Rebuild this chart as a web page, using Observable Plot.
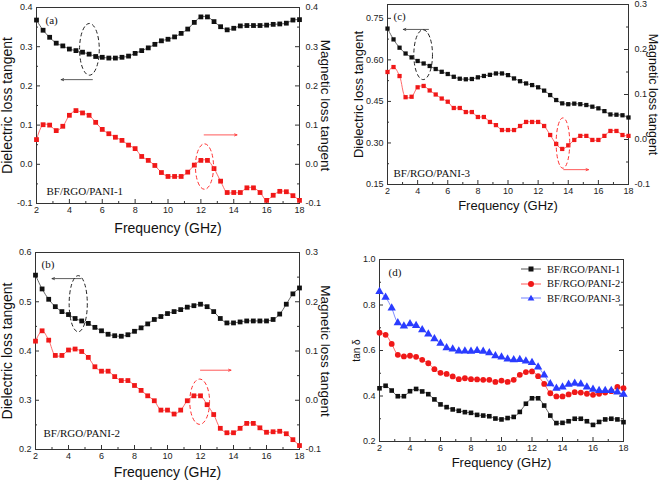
<!DOCTYPE html>
<html>
<head>
<meta charset="utf-8">
<script src="https://cdn.jsdelivr.net/npm/d3@7"></script>
<script src="https://cdn.jsdelivr.net/npm/@observablehq/plot@0.6"></script>
<style>
  html, body { margin: 0; padding: 0; background: #fff; }
  #root { position: relative; width: 661px; height: 481px; overflow: hidden; background: #fff; }
  .panel { position: absolute; }
  .panel svg { overflow: visible; }
  #legend { position: absolute; left: 521px; top: 262px; font-family: "Liberation Serif", "Times New Roman", serif; font-size: 10.5px; color: #111; }
  #legend .row { display: flex; align-items: center; height: 14.5px; }
  #legend svg { margin-right: 4px; }
</style>
</head>
<body>
<div id="root"></div>
<script>
// ---------- data ----------
const freq = [2, 2.4, 2.8, 3.2, 3.6, 4, 4.4, 4.8, 5.2, 5.6, 6, 6.4, 6.8, 7.2, 7.6, 8, 8.4, 8.8, 9.2, 9.6, 10,
  10.4, 10.8, 11.2, 11.6, 12, 12.4, 12.8, 13.2, 13.6, 14, 14.4, 14.8, 15.2, 15.6, 16, 16.4, 16.8, 17.2, 17.6, 18];

// panel (a) BF/RGO/PANI-1
const aDielectric = [0.368,0.342,0.324,0.309,0.302,0.294,0.290,0.286,0.281,0.275,0.273,0.271,0.271,0.273,0.276,0.283,0.290,0.297,0.306,0.315,0.319,0.325,0.334,0.345,0.362,0.376,0.376,0.364,0.351,0.343,0.347,0.353,0.354,0.354,0.354,0.355,0.357,0.358,0.360,0.368,0.369];
const aMagnetic = [0.063,0.101,0.100,0.086,0.097,0.125,0.137,0.131,0.125,0.107,0.089,0.078,0.069,0.061,0.049,0.040,0.020,0.010,-0.003,-0.021,-0.031,-0.031,-0.031,-0.020,-0.002,0.010,0.010,-0.011,-0.043,-0.072,-0.072,-0.072,-0.060,-0.060,-0.072,-0.092,-0.079,-0.069,-0.070,-0.080,-0.092];

// panel (b) BF/RGO/PANI-2
const bDielectric = [0.554,0.526,0.505,0.490,0.480,0.474,0.466,0.461,0.456,0.448,0.441,0.434,0.431,0.430,0.433,0.440,0.447,0.455,0.464,0.470,0.476,0.480,0.484,0.489,0.492,0.495,0.490,0.480,0.466,0.457,0.457,0.459,0.461,0.461,0.461,0.461,0.464,0.475,0.495,0.516,0.528];
const bMagnetic = [0.120,0.141,0.122,0.091,0.091,0.102,0.104,0.099,0.087,0.068,0.059,0.059,0.048,0.040,0.040,0.030,0.020,0.009,-0.001,-0.020,-0.020,-0.028,-0.020,-0.001,0.009,0.009,-0.009,-0.029,-0.057,-0.066,-0.066,-0.057,-0.047,-0.047,-0.056,-0.065,-0.064,-0.063,-0.068,-0.080,-0.092];

// panel (c) BF/RGO/PANI-3
const cDielectric = [0.713,0.674,0.644,0.623,0.609,0.596,0.587,0.578,0.567,0.557,0.549,0.539,0.532,0.530,0.531,0.537,0.542,0.546,0.551,0.551,0.545,0.533,0.523,0.515,0.509,0.501,0.489,0.473,0.455,0.443,0.440,0.442,0.440,0.437,0.431,0.425,0.415,0.403,0.402,0.400,0.392];
const cMagnetic = [0.150,0.161,0.141,0.094,0.095,0.116,0.119,0.109,0.100,0.091,0.084,0.070,0.070,0.061,0.061,0.050,0.050,0.039,0.032,0.021,0.021,0.021,0.030,0.039,0.039,0.039,0.030,0.010,-0.010,-0.021,-0.013,-0.001,0.008,0.008,-0.001,-0.001,0.008,0.019,0.019,0.010,0.008];

// panel (d) tan δ
const dPani1 = [0.434,0.445,0.424,0.399,0.399,0.421,0.431,0.420,0.408,0.385,0.363,0.351,0.341,0.335,0.329,0.326,0.317,0.314,0.311,0.301,0.297,0.303,0.308,0.330,0.366,0.390,0.390,0.358,0.314,0.281,0.282,0.289,0.300,0.300,0.289,0.273,0.286,0.297,0.300,0.297,0.285];
const dPani2 = [0.678,0.669,0.629,0.581,0.574,0.577,0.572,0.559,0.544,0.518,0.502,0.497,0.486,0.474,0.478,0.474,0.473,0.471,0.471,0.462,0.468,0.462,0.471,0.493,0.505,0.508,0.487,0.453,0.412,0.398,0.398,0.407,0.417,0.415,0.410,0.405,0.410,0.415,0.421,0.440,0.434];
const dPani3 = [0.859,0.834,0.786,0.722,0.707,0.717,0.710,0.691,0.672,0.651,0.632,0.612,0.606,0.597,0.597,0.596,0.600,0.596,0.590,0.577,0.571,0.562,0.559,0.560,0.553,0.547,0.527,0.492,0.453,0.434,0.439,0.451,0.456,0.452,0.439,0.429,0.424,0.424,0.424,0.417,0.407];

const sampleNames = ["BF/RGO/PANI-1", "BF/RGO/PANI-2", "BF/RGO/PANI-3"];

// tick values
const xTicks = [2, 4, 6, 8, 10, 12, 14, 16, 18];
const xMinor = [3, 5, 7, 9, 11, 13, 15, 17];
const aLeftTicks = [-0.1, 0, 0.1, 0.2, 0.3, 0.4];
const aRightTicks = [-0.1, 0, 0.1, 0.2, 0.3, 0.4];
const bLeftTicks = [0.2, 0.3, 0.4, 0.5, 0.6];
const bRightTicks = [-0.1, 0, 0.1, 0.2, 0.3];
const cLeftTicks = [0.15, 0.30, 0.45, 0.60, 0.75];
const cRightTicks = [-0.1, 0, 0.1, 0.2, 0.3];
const dLeftTicks = [0.2, 0.4, 0.6, 0.8, 1.0];

// annotations (data units: frequency, right/left axis value)
const aEllipses = [{cx: 5.25, cy: 0.292, rx: 0.6, ry: 0.066, side: "left", color: "#222"},
                   {cx: 12.25, cy: -0.007, rx: 0.55, ry: 0.058, side: "right", color: "#ff3030"}];
const aArrows = [{x1: 5.4, y1: 0.216, x2: 3.5, y2: 0.216, side: "left", color: "#333"},
                 {x1: 12.2, y1: 0.075, x2: 14.2, y2: 0.075, side: "right", color: "#ff3030"}];
const bEllipses = [{cx: 4.62, cy: 0.495, rx: 0.55, ry: 0.057, side: "left", color: "#222"},
                   {cx: 11.98, cy: -0.004, rx: 0.6, ry: 0.046, side: "right", color: "#ff3030"}];
const bArrows = [{x1: 4.75, y1: 0.547, x2: 3.0, y2: 0.547, side: "left", color: "#333"},
                 {x1: 12.0, y1: 0.061, x2: 13.85, y2: 0.061, side: "right", color: "#ff3030"}];
const cEllipses = [{cx: 4.4, cy: 0.617, rx: 0.62, ry: 0.09, side: "left", color: "#222"},
                   {cx: 13.68, cy: -0.009, rx: 0.45, ry: 0.056, side: "right", color: "#ff3030"}];
const cArrows = [{x1: 4.72, y1: 0.71, x2: 3.05, y2: 0.71, side: "left", color: "#333"},
                 {x1: 13.7, y1: -0.067, x2: 15.35, y2: -0.067, side: "right", color: "#ff3030"}];

// ---------- drawing ----------
const SANS = "'Liberation Sans', Arial, Helvetica, sans-serif";
const SERIF = "'Liberation Serif', 'Times New Roman', serif";
const BLACK = "#111111", BLACK_LINE = "#555555";
const RED = "#f01818", RED_LINE = "#ff5a5a";
const BLUE = "#2a3cff", BLUE_LINE = "#7080ff";

function fmt(n) { return v => { const r = Math.round(v * Math.pow(10, n)) / Math.pow(10, n); return (r === 0 ? 0 : r).toFixed(n); }; }
function halfway(t) { const out = []; for (let i = 0; i < t.length - 1; i++) out.push((t[i] + t[i + 1]) / 2); return out; }

function panel(cfg) {
  const {left, top, width, height, mL, mR, mT, mB, yDomain, leftTicks, leftFmt,
         rightTicks, rightFmt, toLeft, series, tag, sample, sampleDx, sampleDy,
         leftTitle, leftDx, leftSize, rightTitle, rightDx, rightSize, bottomDy, bottomSize,
         ellipses, arrows, tagDx, tagDy} = cfg;
  const fh = height - mT - mB;
  const fw = width - mL - mR;
  const ident = v => v;
  const tl = toLeft || ident;
  const marks = [];
  // inward ticks
  marks.push(Plot.ruleX(xTicks, {x: d => d, insetTop: fh - 4, stroke: "#333"}));
  marks.push(Plot.ruleX(xMinor, {x: d => d, insetTop: fh - 2, stroke: "#333"}));
  marks.push(Plot.ruleY(leftTicks, {y: d => d, insetRight: fw - 4, stroke: "#333"}));
  marks.push(Plot.ruleY(halfway(leftTicks), {y: d => d, insetRight: fw - 2, stroke: "#333"}));
  const rt = rightTicks ? rightTicks.map(tl) : leftTicks;
  marks.push(Plot.ruleY(rt, {y: d => d, insetLeft: fw - 4, stroke: "#333"}));
  marks.push(Plot.ruleY(halfway(rt), {y: d => d, insetLeft: fw - 2, stroke: "#333"}));
  // tick labels
  marks.push(Plot.axisX({ticks: xTicks, tickSize: 0, tickPadding: 3.5, tickFormat: d => String(d), label: null, fontSize: 9, fill: "#222"}));
  marks.push(Plot.axisY({ticks: leftTicks, anchor: "left", tickSize: 0, tickPadding: 4, tickFormat: leftFmt, label: null, fontSize: 9, fill: "#222"}));
  if (rightTicks) {
    const inv = cfg.fromLeft || ident;
    marks.push(Plot.axisY({ticks: rightTicks.map(tl), anchor: "right", tickSize: 0, tickPadding: 6, tickFormat: d => rightFmt(inv(d)), label: null, fontSize: 9, fill: "#222"}));
  }
  marks.push(Plot.frame({stroke: "#333", strokeWidth: 1}));
  // series
  for (const s of series) {
    const rows = freq.map((f, i) => ({f, v: (s.right ? tl : ident)(s.values[i])}));
    marks.push(Plot.line(rows, {x: "f", y: "v", curve: "catmull-rom", stroke: s.line, strokeWidth: 0.9}));
    marks.push(Plot.dot(rows, {x: "f", y: "v", symbol: s.symbol, r: s.r, fill: s.color, stroke: "none"}));
  }
  // arrows
  if (arrows) {
    const rows = arrows.map(a => ({...a, y1: a.side === "right" ? tl(a.y1) : a.y1, y2: a.side === "right" ? tl(a.y2) : a.y2}));
    marks.push(Plot.arrow(rows, {x1: "x1", y1: "y1", x2: "x2", y2: "y2", stroke: "color", strokeWidth: 0.8, headLength: 5, headAngle: 45}));
  }
  // texts
  marks.push(Plot.text([tag], {text: d => d, frameAnchor: "top-left", dx: tagDx, dy: tagDy, textAnchor: "start", lineAnchor: "middle", fontFamily: SERIF, fontSize: 11, fill: "#111"}));
  if (sample) marks.push(Plot.text([sample], {text: d => d, frameAnchor: "bottom-left", dx: sampleDx, dy: sampleDy, textAnchor: "start", lineAnchor: "middle", fontFamily: SERIF, fontSize: 11, fill: "#111"}));
  marks.push(Plot.text([leftTitle], {text: d => d, frameAnchor: "left", dx: leftDx, rotate: -90, textAnchor: "middle", lineAnchor: "middle", fontFamily: SANS, fontSize: leftSize, fill: "#111"}));
  if (rightTitle) marks.push(Plot.text([rightTitle], {text: d => d, frameAnchor: "right", dx: rightDx, rotate: 90, textAnchor: "middle", lineAnchor: "middle", fontFamily: SANS, fontSize: rightSize, fill: "#111"}));
  marks.push(Plot.text(["Frequency (GHz)"], {text: d => d, frameAnchor: "bottom", dy: bottomDy, textAnchor: "middle", lineAnchor: "middle", fontFamily: SANS, fontSize: bottomSize, fill: "#111"}));

  const svg = Plot.plot({
    width, height, marginLeft: mL, marginRight: mR, marginTop: mT, marginBottom: mB,
    x: {domain: [2, 18], label: null},
    y: {domain: yDomain, label: null},
    style: {fontFamily: SANS, fontSize: "9px", background: "transparent", overflow: "visible"},
    marks
  });
  // dashed ellipses, positioned through the plot's own scales
  if (ellipses) {
    const sx = svg.scale("x"), sy = svg.scale("y");
    const X = sx.apply ? v => sx.apply(v) : d3.scaleLinear(sx.domain, sx.range);
    const Y = sy.apply ? v => sy.apply(v) : d3.scaleLinear(sy.domain, sy.range);
    const g = d3.select(svg).append("g");
    for (const e of ellipses) {
      const cy = e.side === "right" ? tl(e.cy) : e.cy;
      const top = e.side === "right" ? tl(e.cy + e.ry) : e.cy + e.ry;
      g.append("ellipse")
        .attr("cx", X(e.cx)).attr("cy", Y(cy))
        .attr("rx", Math.abs(X(e.cx + e.rx) - X(e.cx)))
        .attr("ry", Math.abs(Y(top) - Y(cy)))
        .attr("fill", "none").attr("stroke", e.color)
        .attr("stroke-width", 1).attr("stroke-dasharray", "4,2.5");
    }
  }
  const div = document.createElement("div");
  div.className = "panel";
  div.style.left = left + "px";
  div.style.top = top + "px";
  div.appendChild(svg);
  document.getElementById("root").appendChild(div);
}

// (a)
panel({
  left: 0, top: 0, width: 330, height: 240, mL: 36, mR: 31, mT: 7, mB: 37,
  yDomain: [-0.1, 0.4], leftTicks: aLeftTicks, leftFmt: fmt(1), rightTicks: aRightTicks, rightFmt: fmt(1),
  series: [
    {values: aDielectric, color: BLACK, line: BLACK_LINE, symbol: "square", r: 2.7},
    {values: aMagnetic, right: true, color: RED, line: RED_LINE, symbol: "square", r: 2.7}
  ],
  tag: "(a)", tagDx: 9, tagDy: 13, sample: sampleNames[0], sampleDx: 10, sampleDy: -12,
  leftTitle: "Dielectric loss tangent", leftDx: -29, leftSize: 14,
  rightTitle: "Magnetic loss tangent", rightDx: 26, rightSize: 13.5, bottomDy: 25, bottomSize: 14,
  ellipses: aEllipses, arrows: aArrows
});

// (c)
const cToLeft = r => 0.15 + (r + 0.1) / 0.4 * 0.65;
const cFromLeft = l => (l - 0.15) / 0.65 * 0.4 - 0.1;
panel({
  left: 330, top: 0, width: 331, height: 240, mL: 57, mR: 33, mT: 4, mB: 56,
  yDomain: [0.15, 0.80], leftTicks: cLeftTicks, leftFmt: fmt(2), rightTicks: cRightTicks, rightFmt: fmt(1),
  toLeft: cToLeft, fromLeft: cFromLeft,
  series: [
    {values: cDielectric, color: BLACK, line: BLACK_LINE, symbol: "square", r: 2.4},
    {values: cMagnetic, right: true, color: RED, line: RED_LINE, symbol: "square", r: 2.4}
  ],
  tag: "(c)", tagDx: 6, tagDy: 12, sample: sampleNames[2], sampleDx: 6, sampleDy: -11,
  leftTitle: "Dielectric loss tangent", leftDx: -29, leftSize: 13,
  rightTitle: "Magnetic loss tangent", rightDx: 24.5, rightSize: 12.5, bottomDy: 21, bottomSize: 13,
  ellipses: cEllipses, arrows: cArrows
});

// (b)
const bToLeft = r => r + 0.3;
const bFromLeft = l => l - 0.3;
panel({
  left: 0, top: 240, width: 330, height: 241, mL: 35, mR: 31, mT: 12, mB: 32,
  yDomain: [0.2, 0.6], leftTicks: bLeftTicks, leftFmt: fmt(1), rightTicks: bRightTicks, rightFmt: fmt(1),
  toLeft: bToLeft, fromLeft: bFromLeft,
  series: [
    {values: bDielectric, color: BLACK, line: BLACK_LINE, symbol: "square", r: 2.7},
    {values: bMagnetic, right: true, color: RED, line: RED_LINE, symbol: "square", r: 2.7}
  ],
  tag: "(b)", tagDx: 6, tagDy: 12, sample: sampleNames[1], sampleDx: 8, sampleDy: -16,
  leftTitle: "Dielectric loss tangent", leftDx: -28, leftSize: 14,
  rightTitle: "Magnetic loss tangent", rightDx: 26, rightSize: 13.5, bottomDy: 23, bottomSize: 14,
  ellipses: bEllipses, arrows: bArrows
});

// (d)
panel({
  left: 330, top: 240, width: 331, height: 241, mL: 49, mR: 38, mT: 19, mB: 40,
  yDomain: [0.2, 1.0], leftTicks: dLeftTicks, leftFmt: fmt(1),
  series: [
    {values: dPani1, color: BLACK, line: BLACK_LINE, symbol: "square", r: 2.6},
    {values: dPani2, color: RED, line: RED_LINE, symbol: "circle", r: 2.9},
    {values: dPani3, color: BLUE, line: BLUE_LINE, symbol: "triangle", r: 3.1}
  ],
  tag: "(d)", tagDx: 9, tagDy: 13,
  leftTitle: "tan δ", leftDx: -23, leftSize: 10,
  bottomDy: 21, bottomSize: 13
});

// legend for (d)
const legendStyles = [
  {color: BLACK, line: BLACK_LINE, shape: "square"},
  {color: RED, line: RED_LINE, shape: "circle"},
  {color: BLUE, line: BLUE_LINE, shape: "triangle"}
];
const legend = document.createElement("div");
legend.id = "legend";
sampleNames.forEach((name, i) => {
  const st = legendStyles[i];
  const row = document.createElement("div");
  row.className = "row";
  let shape;
  if (st.shape === "square") shape = `<rect x="7.5" y="2.5" width="5" height="5" fill="${st.color}"/>`;
  else if (st.shape === "circle") shape = `<circle cx="10" cy="5" r="3" fill="${st.color}"/>`;
  else shape = `<path d="M10,1.8 L13.4,7.6 L6.6,7.6 Z" fill="${st.color}"/>`;
  row.innerHTML = `<svg width="22" height="10"><line x1="0" y1="5" x2="20" y2="5" stroke="${st.line}" stroke-width="1"/>${shape}</svg><span>${name}</span>`;
  legend.appendChild(row);
});
document.getElementById("root").appendChild(legend);
</script>
</body>
</html>
